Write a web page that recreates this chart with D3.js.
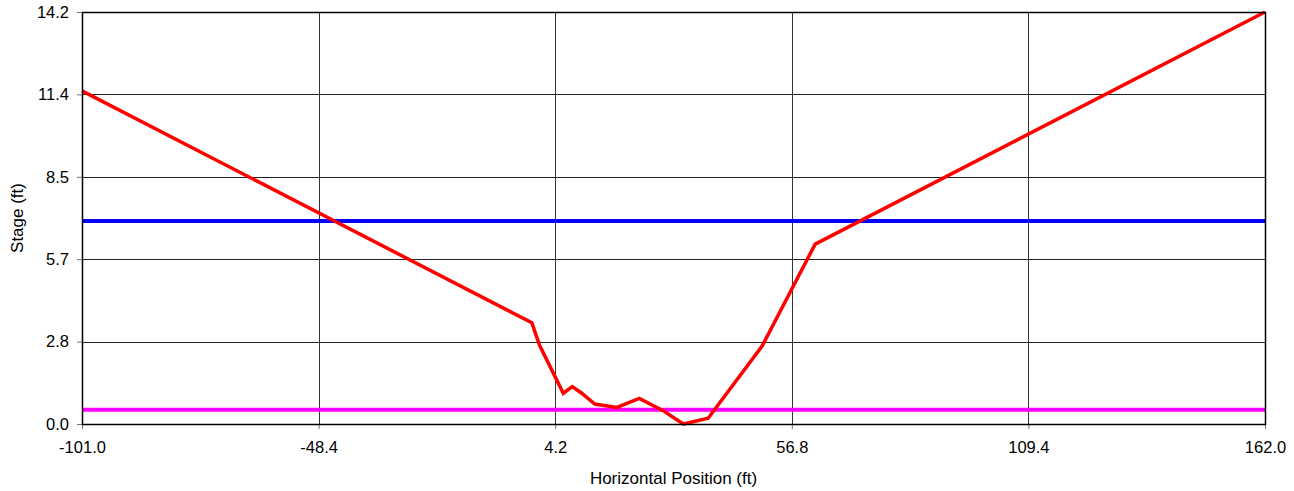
<!DOCTYPE html>
<html>
<head>
<meta charset="utf-8">
<script src="https://cdn.jsdelivr.net/npm/d3@7"></script>
<style>
  html, body { margin: 0; padding: 0; background: #fff; }
  svg { display: block; }
  text { font-family: "Liberation Sans", Arial, sans-serif; fill: #000; }
</style>
</head>
<body>
<svg id="chart" width="1294" height="491"></svg>
<script>
// Cross-section profile (horizontal position vs. ground stage)
const stationFt = [-101.0, -1.0, 0.7, 6.0, 8.0, 10.1, 13.0, 17.9, 22.9, 28.2, 32.7, 38.2, 50.2, 62.0, 162.0];
const groundFt  = [11.48, 3.49, 2.72, 1.06, 1.29, 1.06, 0.69, 0.57, 0.88, 0.46, 0.0, 0.2, 2.69, 6.2, 14.2];

// Horizontal water-surface levels
const levelNames  = ["high", "low"];
const levelStages = [7.0, 0.49];
const levelColors = ["#0000ff", "#ff00ff"];

// Axis ticks
const xTicks = [-101.0, -48.4, 4.2, 56.8, 109.4, 162.0];
const xTickLabels = ["-101.0", "-48.4", "4.2", "56.8", "109.4", "162.0"];
const yTicks = [0, 2.84, 5.68, 8.52, 11.36, 14.2];
const yTickLabels = ["0.0", "2.8", "5.7", "8.5", "11.4", "14.2"];

const margin = { left: 82, top: 12, right: 29, bottom: 67 };
const W = 1294, H = 491;
const pw = W - margin.left - margin.right;
const ph = H - margin.top - margin.bottom;

const svg = d3.select("#chart");
const g = svg.append("g").attr("transform", `translate(${margin.left},${margin.top})`);

const x = d3.scaleLinear().domain([-101, 162]).range([0, pw]);
const y = d3.scaleLinear().domain([0, 14.2]).range([ph, 0]);

// Grid
g.append("g").selectAll("line").data(yTicks).join("line")
  .attr("x1", 0).attr("x2", pw)
  .attr("y1", d => Math.round(y(d)) + 0.5).attr("y2", d => Math.round(y(d)) + 0.5)
  .attr("stroke", "#222").attr("stroke-width", 1);
g.append("g").selectAll("line").data(xTicks).join("line")
  .attr("y1", 0).attr("y2", ph)
  .attr("x1", d => Math.round(x(d)) + 0.5).attr("x2", d => Math.round(x(d)) + 0.5)
  .attr("stroke", "#333").attr("stroke-width", 1);

// Axes
const yAxis = d3.axisLeft(y).tickValues(yTicks)
  .tickFormat((d, i) => yTickLabels[i]).tickSize(5).tickPadding(8);
const xAxis = d3.axisBottom(x).tickValues(xTicks)
  .tickFormat((d, i) => xTickLabels[i]).tickSize(5).tickPadding(8);

const ya = g.append("g").call(yAxis);
const xa = g.append("g").attr("transform", `translate(0,${ph})`).call(xAxis);
[ya, xa].forEach(a => {
  a.select(".domain").remove();
  a.selectAll(".tick line").attr("stroke", "#777");
  a.selectAll(".tick text").attr("font-size", 16.5).attr("font-family", "Liberation Sans, Arial, sans-serif").attr("fill", "#000");
});
xa.selectAll(".tick text").attr("dy", "0.95em");

// Level lines
g.append("g").selectAll("line").data(levelStages).join("line")
  .attr("class", (d, i) => "level " + levelNames[i])
  .attr("x1", 0).attr("x2", pw)
  .attr("y1", d => y(d)).attr("y2", d => y(d))
  .attr("stroke", (d, i) => levelColors[i]).attr("stroke-width", 4);

// Ground profile
const line = d3.line().x(d => x(d[0])).y(d => y(d[1]));
g.append("path")
  .datum(stationFt.map((s, i) => [s, groundFt[i]]))
  .attr("d", line)
  .attr("fill", "none").attr("stroke", "#ff0000").attr("stroke-width", 3.5)
  .attr("stroke-linejoin", "miter");

// Frame
g.append("rect").attr("x", 0.5).attr("y", 0.5).attr("width", pw).attr("height", ph)
  .attr("fill", "none").attr("stroke", "#000").attr("stroke-width", 1.5);

// Axis titles
svg.append("text")
  .attr("x", margin.left + pw / 2).attr("y", 484)
  .attr("text-anchor", "middle").attr("font-size", 17)
  .text("Horizontal Position (ft)");
svg.append("text")
  .attr("transform", `translate(23,${margin.top + ph / 2}) rotate(-90)`)
  .attr("text-anchor", "middle").attr("font-size", 17)
  .text("Stage (ft)");
</script>
</body>
</html>
